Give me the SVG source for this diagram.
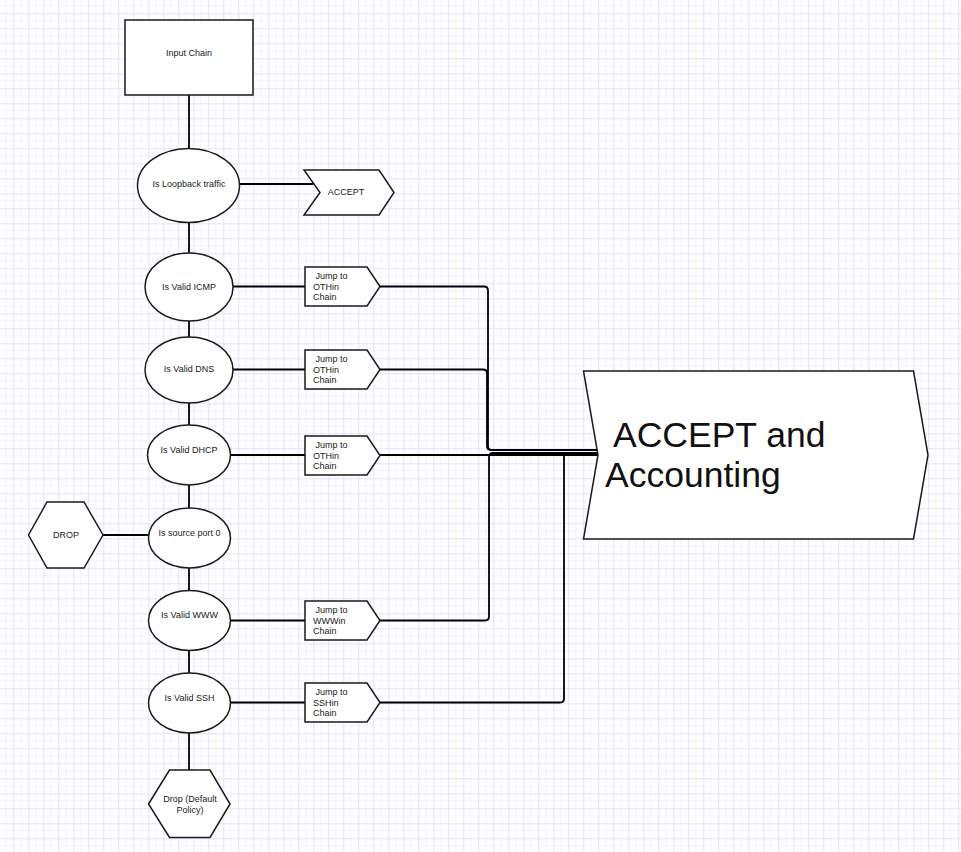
<svg xmlns="http://www.w3.org/2000/svg" width="961" height="852" viewBox="0 0 961 852">
<defs>
<pattern id="grid" x="13.3" y="13.3" width="15" height="15" patternUnits="userSpaceOnUse">
<path d="M0 7.5H15M7.5 0V15" stroke="#f3f3fc" stroke-width="1" fill="none"/>
<path d="M0 0.5H15M0.5 0V15" stroke="#e2e2f8" stroke-width="1" fill="none"/>
</pattern>
</defs>
<style>
.shape{fill:#fff;stroke:#1a1a1a;stroke-width:1.5}
.conn{fill:none;stroke:#000;stroke-width:1.8}
.t{font-family:"Liberation Sans",Arial,sans-serif;font-size:9px;fill:#1a1a1a}
.c{text-anchor:middle}
.big{font-family:"Liberation Sans",Arial,sans-serif;font-size:35.5px;fill:#111}
</style>
<rect width="961" height="852" fill="#fff"/>
<rect width="961" height="852" fill="url(#grid)"/>

<g id="connectors">
<path class="conn" d="M189 95V148M189 223V253M189 321V337M189 403V425M189 485V508M189 568V590M189 651V673M189 733V770"/>
<path class="conn" d="M240 184H313"/>
<path class="conn" d="M233 286.5H305M233 369.5H305M231 455H305M231 620.5H305M231 702.5H305"/>
<path class="conn" d="M103 535H148"/>
<path class="conn" d="M380 286.5H484Q488 286.5 488 290.5V446Q488 450 492 450H598"/>
<path class="conn" d="M380 369.5H483Q487 369.5 487 373.5V446Q487 450 491 450H598"/>
<path class="conn" d="M380 455H598"/>
<path class="conn" d="M380 620.5H485Q489 620.5 489 616.5V457Q489 453 493 453H598"/>
<path class="conn" d="M380 702.5H560Q564 702.5 564 698.5V457Q564 453 568 453H598"/>
</g>

<g id="input-chain">
<rect class="shape" x="125" y="20" width="128" height="75"/>
<text class="t c" x="189" y="56">Input Chain</text>
</g>

<g id="loopback">
<ellipse class="shape" cx="188.5" cy="185.5" rx="51" ry="37"/>
<text class="t c" x="189" y="187">Is Loopback traffic</text>
</g>

<g id="accept">
<polygon class="shape" points="304,170 379,170 394,192.5 379,215 304,215 320,192.5"/>
<text class="t c" x="346" y="195">ACCEPT</text>
</g>

<g id="icmp">
<ellipse class="shape" cx="189" cy="287" rx="44" ry="34"/>
<text class="t c" x="189" y="290">Is Valid ICMP</text>
</g>
<g id="jump-icmp">
<polygon class="shape" points="305,267 367,267 380,286.5 367,306 305,306"/>
<text class="t" x="315.5" y="279">Jump to</text>
<text class="t" x="313" y="290">OTHin</text>
<text class="t" x="313" y="300">Chain</text>
</g>

<g id="dns">
<ellipse class="shape" cx="189" cy="370" rx="44" ry="33"/>
<text class="t c" x="189" y="372">Is Valid DNS</text>
</g>
<g id="jump-dns">
<polygon class="shape" points="305,350 367,350 380,369.5 367,389 305,389"/>
<text class="t" x="315.5" y="362">Jump to</text>
<text class="t" x="313" y="373">OTHin</text>
<text class="t" x="313" y="383">Chain</text>
</g>

<g id="dhcp">
<ellipse class="shape" cx="189" cy="455" rx="41.5" ry="30"/>
<text class="t c" x="189" y="453">Is Valid DHCP</text>
</g>
<g id="jump-dhcp">
<polygon class="shape" points="305,436 367,436 380,455.5 367,475 305,475"/>
<text class="t" x="315.5" y="447.5">Jump to</text>
<text class="t" x="313" y="459">OTHin</text>
<text class="t" x="313" y="469">Chain</text>
</g>

<g id="drop">
<polygon class="shape" points="28.5,535 47,502 84,502 103,535 84,568 47,568"/>
<text class="t c" x="66" y="538">DROP</text>
</g>

<g id="source-port">
<ellipse class="shape" cx="189.5" cy="538" rx="41" ry="30"/>
<text class="t c" x="189.5" y="536">Is source port 0</text>
</g>

<g id="www">
<ellipse class="shape" cx="189.5" cy="620.5" rx="41" ry="30"/>
<text class="t c" x="189.5" y="618">Is Valid WWW</text>
</g>
<g id="jump-www">
<polygon class="shape" points="305,601 367,601 380,620.5 367,640 305,640"/>
<text class="t" x="315.5" y="612.5">Jump to</text>
<text class="t" x="313" y="623.5">WWWin</text>
<text class="t" x="313" y="633.5">Chain</text>
</g>

<g id="ssh">
<ellipse class="shape" cx="189.5" cy="703" rx="41" ry="30"/>
<text class="t c" x="189.5" y="700.5">Is Valid SSH</text>
</g>
<g id="jump-ssh">
<polygon class="shape" points="305,683 367,683 380,702.5 367,722 305,722"/>
<text class="t" x="315.5" y="694.5">Jump to</text>
<text class="t" x="313" y="705.5">SSHin</text>
<text class="t" x="313" y="715.5">Chain</text>
</g>

<g id="default-drop">
<polygon class="shape" points="148.5,804 169.5,770 210,770 230,804 210,837.5 169.5,837.5"/>
<text class="t c" x="190" y="802">Drop (Default</text>
<text class="t c" x="190" y="813">Policy)</text>
</g>

<g id="accept-accounting">
<polygon class="shape" points="583.5,371 913.5,371 928,455 913.5,539 583.5,539 598,455"/>
<text class="big" x="613" y="447">ACCEPT and</text>
<text class="big" x="605" y="487">Accounting</text>
</g>
</svg>
